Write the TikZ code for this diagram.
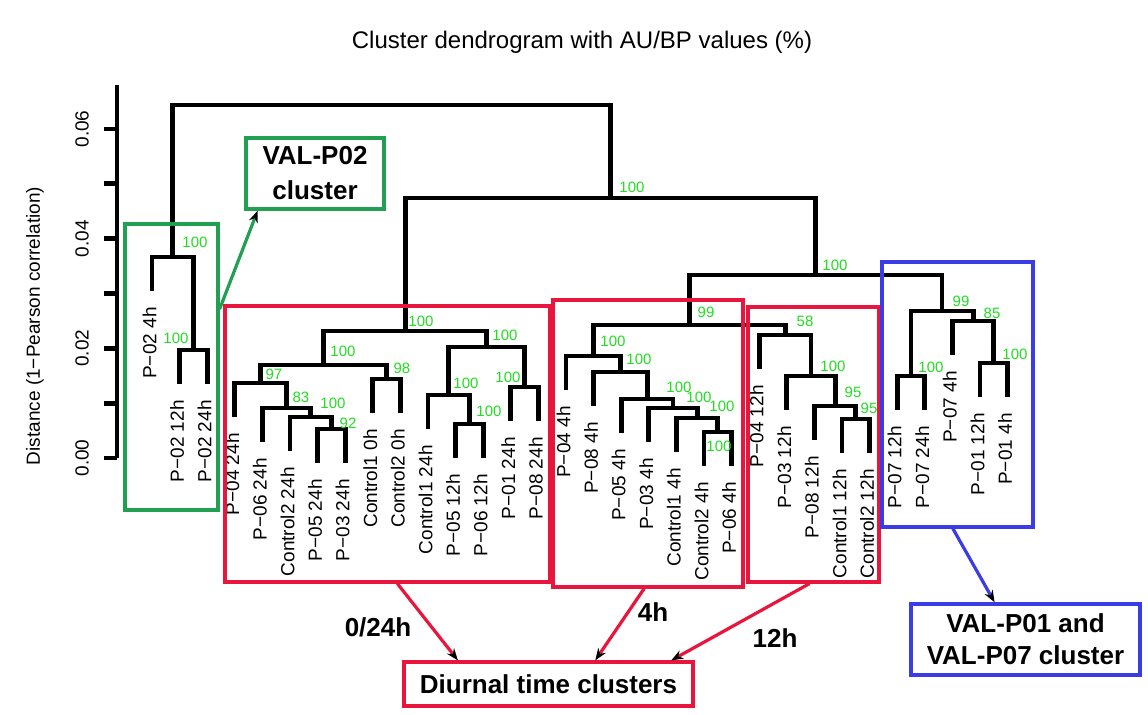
\documentclass[tikz,border=0pt]{standalone}
\usepackage{fontspec}
\setmainfont{Liberation Sans}
\usetikzlibrary{arrows.meta,calc}
\definecolor{boxred}{HTML}{E8153C}
\definecolor{boxgreen}{HTML}{20A050}
\definecolor{boxblue}{HTML}{3C3CE6}
\definecolor{aulabel}{HTML}{22DD22}
\newcommand\dmerge[5]{\coordinate (#1) at (#2,#3); \draw[tree] (#4) |- (#1) -| (#5);}
\newcommand\aulab[3]{\node[au] at (#1,#2) {#3};}
\begin{document}
\begin{tikzpicture}[x=0.5pt,y=-0.5pt,
  tree/.style={line width=2.4pt, line cap=butt, line join=miter},
  leaf/.style={rotate=90, anchor=east, inner sep=0pt, font=\fontsize{9.5}{11}\selectfont},
  au/.style={text=aulabel, inner sep=0pt, font=\fontsize{7.5}{8.5}\selectfont},
  axlab/.style={rotate=90, inner sep=0pt, font=\fontsize{9.5}{11}\selectfont},
  clbox/.style={draw, line width=1.6pt, inner sep=0pt, fill=none},
  bigtext/.style={font=\bfseries\fontsize{13}{16}\selectfont, align=center, inner sep=0pt},
  arr/.style={line width=1.6pt, -{Stealth[black,length=6pt,width=4.5pt]}}]
\fill[white] (0,0) rectangle (1148,715);
\useasboundingbox (0,0) rectangle (1148,715);

% title
\node[inner sep=0pt, font=\fontsize{12}{14}\selectfont] (title) at (582,42) {Cluster dendrogram with AU/BP values (\%)};

% axis
\coordinate (axtop) at (117,85);
\coordinate (axbot) at (117,458);
\draw[line width=2.4pt] (axtop) -- (axbot);
\foreach \k in {0,...,6} {
  \coordinate (tk\k) at (117,{458-\k*54.83});
  \draw[line width=2.4pt] (tk\k) -- ++(-13,0);
}
\foreach \k/\v in {0/0.00,2/0.02,4/0.04,6/0.06} {
  \node[axlab] (tl\k) at (82,{458-\k*54.83}) {\v};
}
\node[axlab] (ytitle) at (35,326) {Distance (1−Pearson correlation)};

% leaves
\foreach \i/\b/\t in {1/291/P−02 4h, 2/384/P−02 12h, 3/384/P−02 24h,
  4/417/P−04 24h, 5/442/P−06 24h, 6/451/Control2 24h, 7/463/P−05 24h, 8/463/P−03 24h,
  9/413/Control1 0h, 10/413/Control2 0h, 11/429/Control1 24h, 12/458/P−05 12h,
  13/458/P−06 12h, 14/421/P−01 24h, 15/421/P−08 24h,
  16/390/P−04 4h, 17/406/P−08 4h, 18/433/P−05 4h, 19/442/P−03 4h,
  20/452/Control1 4h, 21/466/Control2 4h, 22/466/P−06 4h,
  23/369/P−04 12h, 24/410/P−03 12h, 25/440/P−08 12h, 26/453/Control1 12h, 27/453/Control2 12h,
  28/410/P−07 12h, 29/410/P−07 24h, 30/355/P−07 4h, 31/397/P−01 12h, 32/397/P−01 4h} {
  \coordinate (L\i) at ({152+(\i-1)*27.6},\b);
  \node[leaf] (t\i) at ({152+(\i-1)*27.6-2.5},{\b+16}) {\t};
}

% merges
\dmerge{A}{193.4}{350}{L2}{L3}
\dmerge{B}{172.7}{257}{L1}{A}
\dmerge{D11111}{331.4}{429}{L7}{L8}
\dmerge{D1111}{310.7}{417}{L6}{D11111}
\dmerge{D111}{286.55}{408}{L5}{D1111}
\dmerge{D11}{260.7}{383}{L4}{D111}
\dmerge{D12}{386.6}{379}{L9}{L10}
\dmerge{D1}{323.6}{365}{D11}{D12}
\dmerge{D211}{469.4}{424}{L12}{L13}
\dmerge{D21}{448.7}{395}{L11}{D211}
\dmerge{D22}{524.6}{387}{L14}{L15}
\dmerge{D2}{486.6}{347}{D21}{D22}
\dmerge{D}{405.1}{331}{D1}{D2}
\dmerge{F111111}{717.8}{432}{L21}{L22}
\dmerge{F11111}{697.1}{418}{L20}{F111111}
\dmerge{F1111}{672.95}{408}{L19}{F11111}
\dmerge{F111}{647.1}{399}{L18}{F1111}
\dmerge{F11}{620.35}{372}{L17}{F111}
\dmerge{F1}{593.2}{356}{L16}{F11}
\dmerge{F2111}{855.8}{419}{L26}{L27}
\dmerge{F211}{835.1}{406}{L25}{F2111}
\dmerge{F21}{810.95}{376}{L24}{F211}
\dmerge{F2}{785.1}{335}{L23}{F21}
\dmerge{F}{689.1}{325}{F1}{F2}
\dmerge{G1}{911}{376}{L28}{L29}
\dmerge{G21}{993.8}{363}{L31}{L32}
\dmerge{G2}{973.1}{321}{L30}{G21}
\dmerge{G}{942.05}{311}{G1}{G2}
\dmerge{E}{815.6}{275}{F}{G}
\dmerge{C}{610.35}{198}{D}{E}
\dmerge{R}{391.5}{105}{B}{C}

% AU values
\aulab{176}{338}{100}
\aulab{195}{242}{100}
\aulab{632}{187}{100}
\aulab{421}{321}{100}
\aulab{343}{351}{100}
\aulab{274}{374}{97}
\aulab{301}{397}{83}
\aulab{333}{403}{100}
\aulab{348}{423}{92}
\aulab{402}{368}{98}
\aulab{505}{335}{100}
\aulab{466}{383}{100}
\aulab{489}{411}{100}
\aulab{508}{377}{100}
\aulab{835}{265}{100}
\aulab{706}{312}{99}
\aulab{613}{341}{100}
\aulab{639}{359}{100}
\aulab{679}{387}{100}
\aulab{699}{397}{100}
\aulab{722}{406}{100}
\aulab{719}{446}{100}
\aulab{805}{321}{58}
\aulab{833}{366}{100}
\aulab{853}{392}{95}
\aulab{869}{408}{95}
\aulab{961}{301}{99}
\aulab{931}{367}{100}
\aulab{992}{313}{85}
\aulab{1015}{354}{100}

% cluster boxes
\node[clbox, draw=boxgreen, minimum width=46.5pt, minimum height=143pt] (gbox) at (171.5,367) {};
\node[clbox, draw=boxred, minimum width=162.5pt, minimum height=138pt] (r024) at (387.5,444) {};
\node[clbox, draw=boxred, minimum width=95pt, minimum height=143.5pt] (r4) at (648,443.5) {};
\node[clbox, draw=boxred, minimum width=65.5pt, minimum height=137.5pt] (r12) at (813.5,444.5) {};
\node[clbox, draw=boxblue, minimum width=75.5pt, minimum height=132.5pt] (bbox) at (957.5,394.5) {};

% label boxes
\node[clbox, draw=boxgreen, bigtext, minimum width=69pt, minimum height=35.5pt] (glab) at (315,173.5)
  {VAL-P02\\[1.5pt]cluster};
\node[clbox, draw=boxblue, bigtext, minimum width=114.5pt, minimum height=35.5pt] (blab) at (1025.5,639.5)
  {VAL-P01 and\\VAL-P07 cluster};
\node[clbox, draw=boxred, bigtext, minimum width=144.5pt, minimum height=22pt] (dlab) at (548.5,684)
  {Diurnal time clusters};

% time labels
\node[bigtext] (l024) at (378,627) {0/24h};
\node[bigtext] (l4) at (653,612) {4h};
\node[bigtext] (l12) at (775,638) {12h};

% arrows
\draw[arr, boxgreen] ($(gbox.north east)!0.30!(gbox.south east)$) -- ($(glab.south west)!0.094!(glab.south east)$);
\draw[arr, boxred] ($(r024.south west)!0.53!(r024.south east)$) -- ($(dlab.north west)!0.19!(dlab.north east)$);
\draw[arr, boxred] ($(r4.south west)!0.48!(r4.south east)$) -- ($(dlab.north west)!0.66!(dlab.north east)$);
\draw[arr, boxred] ($(r12.south west)!0.47!(r12.south east)$) -- ($(dlab.north west)!0.92!(dlab.north east)$);
\draw[arr, boxblue] ($(bbox.south west)!0.47!(bbox.south east)$) -- ($(blab.north west)!0.367!(blab.north east)$);
\end{tikzpicture}
\end{document}
